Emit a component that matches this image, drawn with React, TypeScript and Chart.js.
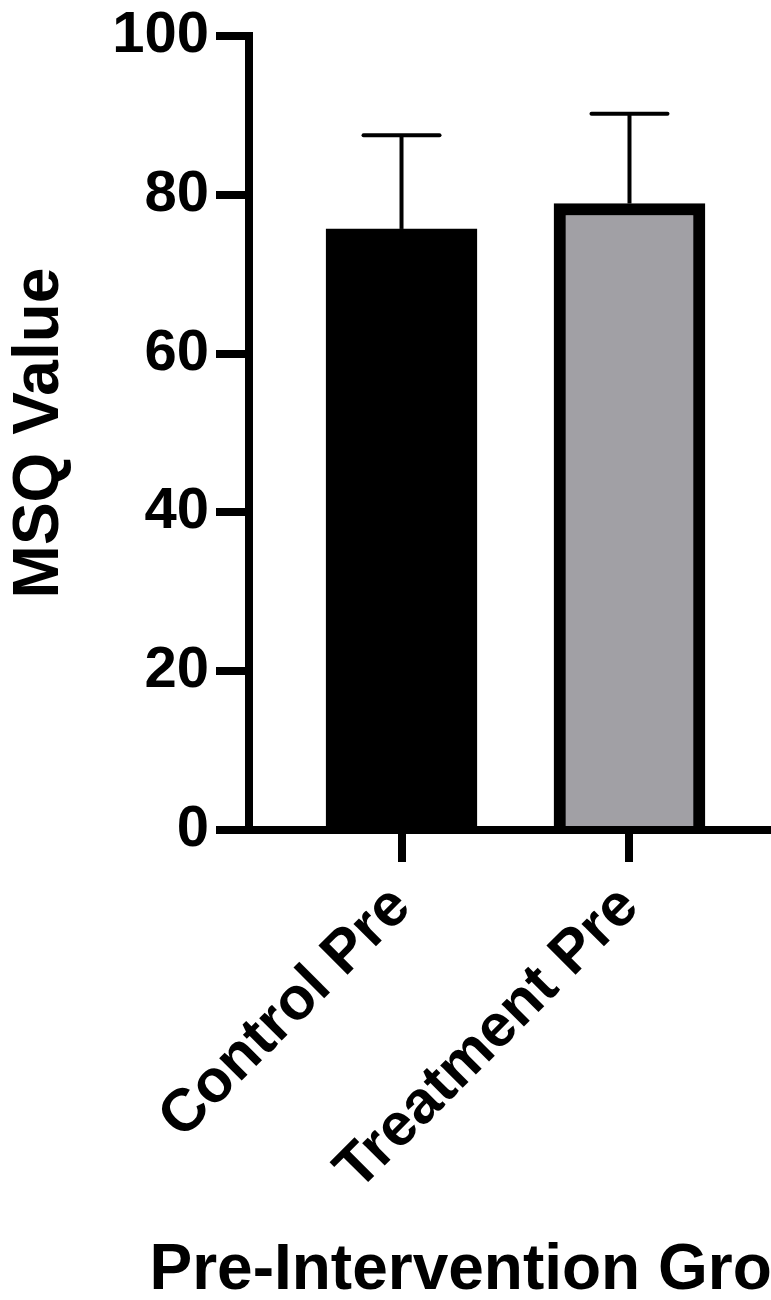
import React, { useEffect, useRef } from "react";
import { Chart, registerables } from "chart.js";

Chart.register(...registerables);

// ---- data ----
const CATEGORIES = ["Control Pre", "Treatment Pre"];
const CATEGORY_X = [0, 1];
const MEANS = [75.7, 78.9];
const ERROR_UPPER = [87.5, 90.2];
const BAR_COLORS = ["#000000", "#a1a0a5"];
const Y_MIN = 0;
const Y_MAX = 100;
const Y_STEP = 20;
const Y_TITLE = "MSQ Value";
const X_TITLE = "Pre-Intervention Groups";

const FONT = "'Liberation Sans', Arial, Helvetica, sans-serif";

const errorBarsPlugin = {
  id: "errorBars",
  afterDatasetsDraw(chart: any) {
    const meta = chart.getDatasetMeta(0);
    const yScale = chart.scales.y;
    const ctx = chart.ctx;
    ctx.save();
    ctx.strokeStyle = "#000";
    meta.data.forEach((bar: any, i: number) => {
      const top = yScale.getPixelForValue(ERROR_UPPER[i]);
      ctx.lineWidth = 4;
      ctx.lineCap = "butt";
      ctx.beginPath();
      ctx.moveTo(bar.x, bar.y);
      ctx.lineTo(bar.x, top);
      ctx.stroke();
      ctx.lineCap = "round";
      ctx.beginPath();
      ctx.moveTo(bar.x - 38, top);
      ctx.lineTo(bar.x + 38, top);
      ctx.stroke();
    });
    ctx.restore();
  },
};

const xTitlePlugin = {
  id: "xTitle",
  afterDraw(chart: any) {
    const xs = chart.scales.x;
    const ctx = chart.ctx;
    ctx.save();
    ctx.font = `bold 64px ${FONT}`;
    ctx.fillStyle = "#000";
    ctx.textAlign = "center";
    ctx.textBaseline = "alphabetic";
    ctx.fillText(X_TITLE, (xs.left + xs.right) / 2 + 2, 1289);
    ctx.restore();
  },
};

export default function App() {
  const canvasRef = useRef<HTMLCanvasElement | null>(null);

  useEffect(() => {
    if (!canvasRef.current) return;
    const chart = new Chart(canvasRef.current, {
      type: "bar",
      data: {
        datasets: [
          {
            data: CATEGORY_X.map((x, i) => ({ x, y: MEANS[i] })),
            backgroundColor: BAR_COLORS,
            borderColor: "#000",
            borderWidth: 12,
            borderSkipped: "start",
            barThickness: 151,
          },
        ],
      },
      options: {
        animation: false,
        responsive: false,
        events: [],
        layout: { padding: { top: 35, right: 18, left: 0, bottom: 0 } },
        plugins: {
          legend: { display: false },
          tooltip: { enabled: false },
        },
        scales: {
          x: {
            type: "linear",
            position: "bottom",
            offset: false,
            min: -0.669,
            max: 1.669,
            z: 1,
            afterFit: (scale: any) => {
              scale.height = 470;
            },
            afterBuildTicks: (scale: any) => {
              scale.ticks = CATEGORY_X.map((v) => ({ value: v }));
            },
            border: { display: true, color: "#000", width: 8 },
            grid: {
              display: true,
              offset: false,
              drawOnChartArea: false,
              drawTicks: true,
              tickLength: 32,
              tickWidth: 8,
              tickColor: "#000",
              color: "#000",
              lineWidth: 8,
            },
            ticks: {
              autoSkip: false,
              minRotation: 45,
              maxRotation: 45,
              padding: 10,
              color: "#000",
              font: { family: FONT, size: 60, weight: "bold" },
              callback: (_v: any, index: number) => CATEGORIES[index],
            },
          },
          y: {
            type: "linear",
            min: Y_MIN,
            max: Y_MAX,
            afterFit: (scale: any) => {
              scale.width = 249;
            },
            border: { display: true, color: "#000", width: 8 },
            grid: {
              display: true,
              drawOnChartArea: false,
              drawTicks: true,
              tickLength: 33,
              tickWidth: 8,
              tickColor: "#000",
              color: "#000",
              lineWidth: 8,
            },
            ticks: {
              stepSize: Y_STEP,
              padding: 7,
              color: "#000",
              font: { family: FONT, size: 58, weight: "bold", lineHeight: 1 },
            },
            title: {
              display: true,
              text: Y_TITLE,
              color: "#000",
              padding: { top: 8, bottom: 0 },
              font: { family: FONT, size: 64, weight: "bold", lineHeight: 1 },
            },
          },
        },
      },
      plugins: [errorBarsPlugin, xTitlePlugin],
    } as any);
    return () => chart.destroy();
  }, []);

  return (
    <div
      style={{
        position: "absolute",
        left: 0,
        top: 0,
        width: 771,
        height: 1300,
        overflow: "hidden",
        background: "#fff",
      }}
    >
      <canvas
        ref={canvasRef}
        width={800}
        height={1300}
        style={{ display: "block", width: 800, height: 1300 }}
      />
    </div>
  );
}
